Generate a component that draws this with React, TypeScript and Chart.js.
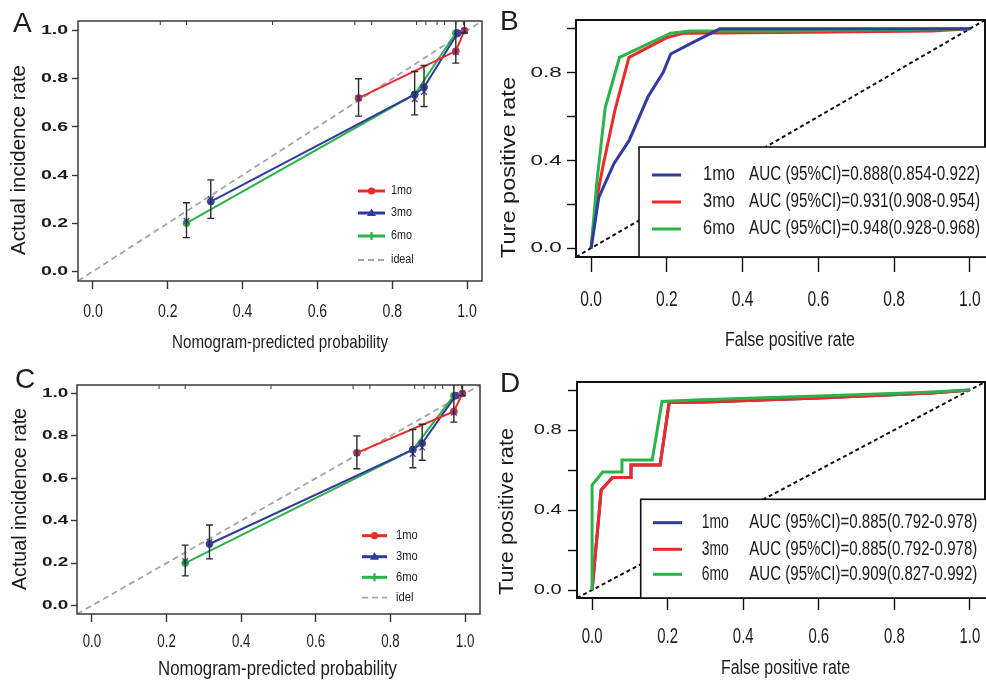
import React, { useEffect, useRef } from 'react';
import { Chart, registerables } from 'chart.js';

Chart.register(...registerables);

// ---------------- colours & fonts ----------------
const RED = '#ec2a2a';
const BLUE = '#2f3b9e';
const GREEN = '#2cb24a';
const XMARK = '#4a46a6';
const INK = '#1b1b1b';
const SANS = '"Liberation Sans", Arial, Helvetica, sans-serif';

// ---------------- tick labels ----------------
const probTickLabels = ['0.0', '0.2', '0.4', '0.6', '0.8', '1.0'];
const rocYTickLabels = ['0.0', '', '0.4', '', '0.8', ''];
const axisMin = -0.04;
const axisMax = 1.04;

// ---------------- calibration curves (A and C) ----------------
const cal1moX = [0.71, 0.97, 0.993];
const cal1moY = [0.72, 0.915, 1.0];
const cal3moX = [0.315, 0.86, 0.885, 0.975];
const cal3moY = [0.29, 0.735, 0.765, 0.99];
const cal6moX = [0.25, 0.86, 0.97];
const cal6moY = [0.2, 0.735, 0.99];
const calCrossX = [0.25, 0.315, 0.71, 0.86, 0.885, 0.97, 0.975, 0.993];
const calCrossY = [0.21, 0.3, 0.72, 0.715, 0.745, 0.91, 0.99, 1.0];
const calErrX = [0.25, 0.315, 0.71, 0.86, 0.885, 0.97, 0.993];
const calErrLow = [0.14, 0.22, 0.645, 0.65, 0.685, 0.865, 0.99];
const calErrHigh = [0.285, 0.38, 0.8, 0.83, 0.855, 1.06, 1.06];
const calRugX = [0.18, 0.25, 0.48, 0.7, 0.745, 0.865, 0.89, 0.92, 0.94, 0.97, 0.99];
const idealX = [-0.04, 1.04];
const calLegendA = ['1mo', '3mo', '6mo', 'ideal'];
const calLegendC = ['1mo', '3mo', '6mo', 'idel'];

// ---------------- ROC curves (B) ----------------
const rocNames = ['1mo', '3mo', '6mo'];
const rocB1Fpr = [0, 0.02, 0.06, 0.1, 0.15, 0.19, 0.21, 0.26, 0.34, 1.0];
const rocB1Tpr = [0, 0.23, 0.385, 0.49, 0.69, 0.8, 0.885, 0.93, 1.0, 1.0];
const rocB3Fpr = [0, 0.012, 0.032, 0.063, 0.1, 0.2, 0.245, 0.5, 0.9, 1.0];
const rocB3Tpr = [0, 0.2, 0.38, 0.63, 0.87, 0.96, 0.98, 0.983, 0.99, 1.0];
const rocB6Fpr = [0, 0.015, 0.037, 0.075, 0.21, 0.26, 0.5, 1.0];
const rocB6Tpr = [0, 0.3, 0.64, 0.87, 0.98, 0.99, 0.99, 1.0];
const aucB = [
  'AUC (95%CI)=0.888(0.854-0.922)',
  'AUC (95%CI)=0.931(0.908-0.954)',
  'AUC (95%CI)=0.948(0.928-0.968)',
];

// ---------------- ROC curves (D) ----------------
const rocD1Fpr = [0, 0.024, 0.054, 0.103, 0.103, 0.18, 0.204, 0.3, 0.6, 0.9, 1.0];
const rocD1Tpr = [0, 0.5, 0.563, 0.563, 0.625, 0.625, 0.937, 0.94, 0.96, 0.985, 1.0];
const rocD3Fpr = [0, 0.024, 0.054, 0.103, 0.103, 0.18, 0.204, 0.3, 0.6, 0.9, 1.0];
const rocD3Tpr = [0, 0.5, 0.563, 0.563, 0.625, 0.625, 0.937, 0.94, 0.96, 0.985, 1.0];
const rocD6Fpr = [0, 0, 0.028, 0.079, 0.079, 0.159, 0.185, 0.27, 0.6, 0.87, 1.0];
const rocD6Tpr = [0, 0.525, 0.59, 0.59, 0.65, 0.65, 0.943, 0.95, 0.97, 0.988, 1.0];
const aucD = [
  'AUC (95%CI)=0.885(0.792-0.978)',
  'AUC (95%CI)=0.885(0.792-0.978)',
  'AUC (95%CI)=0.909(0.827-0.992)',
];

const pts = (xs: number[], ys: number[]) => xs.map((x, i) => ({ x, y: ys[i] }));

// ---------------- drawing helpers ----------------
type TextItem = {
  text: string; x: number; y: number; font: string; color?: string;
  align?: CanvasTextAlign; baseline?: CanvasTextBaseline; rotate?: number;
  width?: number; sx?: number;
};

function drawText(ctx: CanvasRenderingContext2D, t: TextItem) {
  if (!t.text) return;
  ctx.save();
  ctx.translate(t.x, t.y);
  if (t.rotate) ctx.rotate(t.rotate);
  ctx.font = t.font;
  ctx.fillStyle = t.color || INK;
  ctx.textAlign = t.align || 'center';
  ctx.textBaseline = t.baseline || 'middle';
  let sx = t.sx || 1;
  if (t.width) {
    const w = ctx.measureText(t.text).width;
    if (w > 0) sx = t.width / w;
  }
  ctx.scale(sx, 1);
  ctx.fillText(t.text, 0, 0);
  ctx.restore();
}

function drawMarker(ctx: CanvasRenderingContext2D, style: string, x: number, y: number, color: string) {
  ctx.save();
  ctx.fillStyle = color;
  ctx.strokeStyle = color;
  ctx.setLineDash([]);
  if (style === 'circle') {
    ctx.beginPath();
    ctx.arc(x, y, 3.6, 0, Math.PI * 2);
    ctx.fill();
  } else if (style === 'triangle') {
    ctx.beginPath();
    ctx.moveTo(x, y - 4.5);
    ctx.lineTo(x + 4.5, y + 3);
    ctx.lineTo(x - 4.5, y + 3);
    ctx.closePath();
    ctx.fill();
  } else if (style === 'plus') {
    ctx.lineWidth = 2.2;
    ctx.beginPath();
    ctx.moveTo(x - 4, y); ctx.lineTo(x + 4, y);
    ctx.moveTo(x, y - 4); ctx.lineTo(x, y + 4);
    ctx.stroke();
  }
  ctx.restore();
}

function makeDeco(cfg: any) {
  return {
    id: 'deco',
    afterDatasetsDraw(chart: any) {
      const ctx: CanvasRenderingContext2D = chart.ctx;
      const a = chart.chartArea;
      const xs = chart.scales.x;
      const ys = chart.scales.y;

      if (cfg.errors) {
        const e = cfg.errors;
        ctx.save();
        ctx.beginPath();
        ctx.rect(a.left, a.top, a.right - a.left, a.bottom - a.top);
        ctx.clip();
        ctx.strokeStyle = '#2a2a2a';
        ctx.lineWidth = 1.4;
        e.x.forEach((xv: number, i: number) => {
          const px = xs.getPixelForValue(xv);
          const p1 = ys.getPixelForValue(e.low[i]);
          const p2 = ys.getPixelForValue(e.high[i]);
          ctx.beginPath();
          ctx.moveTo(px, p1); ctx.lineTo(px, p2);
          ctx.moveTo(px - 3.5, p1); ctx.lineTo(px + 3.5, p1);
          ctx.moveTo(px - 3.5, p2); ctx.lineTo(px + 3.5, p2);
          ctx.stroke();
        });
        ctx.restore();
      }

      if (cfg.rug) {
        ctx.save();
        ctx.strokeStyle = '#333';
        ctx.lineWidth = 1;
        cfg.rug.forEach((v: number) => {
          const px = xs.getPixelForValue(v);
          ctx.beginPath();
          ctx.moveTo(px, a.top);
          ctx.lineTo(px, a.top + 4);
          ctx.stroke();
        });
        ctx.restore();
      }

      // tick labels, placed from the library's own tick positions
      if (cfg.tickText) {
        const T = cfg.tickText;
        xs.ticks.forEach((_t: any, i: number) => {
          drawText(ctx, {
            text: T.x.labels[i], x: xs.getPixelForTick(i), y: a.bottom + T.x.offset,
            font: T.x.font, sx: T.x.sx, align: 'center',
          });
        });
        ys.ticks.forEach((_t: any, i: number) => {
          drawText(ctx, {
            text: T.y.labels[i], x: a.left - T.y.offset, y: ys.getPixelForTick(i),
            font: T.y.font, sx: T.y.sx, align: 'right',
          });
        });
      }

      // calibration-style legend (no box)
      if (cfg.calLegend) {
        const L = cfg.calLegend;
        L.items.forEach((dsIndex: number, i: number) => {
          const ds = chart.data.datasets[dsIndex];
          const y = L.rows[i];
          ctx.save();
          ctx.strokeStyle = ds.borderColor;
          ctx.lineWidth = L.markers[i] ? 3 : 1.8;
          ctx.setLineDash(ds.borderDash || []);
          ctx.beginPath();
          ctx.moveTo(L.x0, y);
          ctx.lineTo(L.x1, y);
          ctx.stroke();
          ctx.restore();
          if (L.markers[i]) drawMarker(ctx, L.markers[i], (L.x0 + L.x1) / 2, y, ds.borderColor);
          drawText(ctx, { text: ds.label, x: L.tx, y, font: L.font, align: 'left', sx: 0.86 });
        });
      }

      // frame
      ctx.save();
      ctx.strokeStyle = cfg.frameColor;
      ctx.lineWidth = cfg.frameWidth;
      ctx.strokeRect(a.left, a.top, a.right - a.left, a.bottom - a.top);
      ctx.restore();

      // ROC legend (boxed)
      if (cfg.rocLegend) {
        const L = cfg.rocLegend;
        ctx.save();
        ctx.fillStyle = '#ffffff';
        ctx.fillRect(L.left, L.top, 1000, a.bottom - L.top);
        ctx.strokeStyle = '#111';
        ctx.lineWidth = 1.6;
        ctx.strokeRect(L.left, L.top, 1000, a.bottom - L.top);
        ctx.restore();
        L.items.forEach((dsIndex: number, i: number) => {
          const ds = chart.data.datasets[dsIndex];
          const y = L.rows[i];
          ctx.save();
          ctx.strokeStyle = ds.borderColor;
          ctx.lineWidth = 3;
          ctx.beginPath();
          ctx.moveTo(L.lx0, y);
          ctx.lineTo(L.lx1, y);
          ctx.stroke();
          ctx.restore();
          drawText(ctx, { text: ds.label, x: L.nameX, y, font: L.font, align: 'left', width: L.nameW });
          drawText(ctx, { text: L.auc[i], x: L.aucX, y, font: L.font, align: 'left', width: L.aucW });
        });
      }

      (cfg.texts || []).forEach((t: TextItem) => drawText(ctx, t));
    },
  };
}

function axisFit(kind: 'x' | 'y', size: number) {
  return (s: any) => {
    if (kind === 'x') s.height = size; else s.width = size;
    s.paddingLeft = 0; s.paddingRight = 0; s.paddingTop = 0; s.paddingBottom = 0;
  };
}

function makeScales(L: any, labelsX: string[], labelsY: string[], tickColor: string) {
  const common = {
    type: 'linear',
    min: axisMin,
    max: axisMax,
    offset: false,
    border: { display: false },
  };
  return {
    x: {
      ...common,
      position: 'bottom',
      ticks: {
        display: false, stepSize: 0.2, includeBounds: false, autoSkip: false, maxRotation: 0, minRotation: 0,
        callback: (_v: any, i: number) => labelsX[i],
      },
      grid: { drawOnChartArea: false, drawTicks: true, tickLength: L.xTl, tickColor, tickWidth: 1.4 },
      afterFit: axisFit('x', L.xH),
    },
    y: {
      ...common,
      position: 'left',
      ticks: {
        display: false, stepSize: 0.2, includeBounds: false, autoSkip: false,
        callback: (_v: any, i: number) => labelsY[i],
      },
      grid: { drawOnChartArea: false, drawTicks: true, tickLength: L.yTl, tickColor, tickWidth: 1.4 },
      afterFit: axisFit('y', L.yW),
    },
  };
}

function calibrationConfig(L: any, legendLabels: string[]) {
  const line = (label: string, xs: number[], ys: number[], color: string) => ({
    label,
    data: pts(xs, ys),
    showLine: true,
    borderColor: color,
    backgroundColor: color,
    borderWidth: 2,
    pointRadius: 3.4,
    pointBackgroundColor: color,
    pointBorderColor: color,
    pointBorderWidth: 1,
  });
  const datasets = [
    {
      label: 'x', data: pts(calCrossX, calCrossY), showLine: false, pointStyle: 'crossRot',
      pointRadius: 4, pointBorderColor: XMARK, pointBorderWidth: 1.4, borderColor: XMARK, backgroundColor: XMARK,
    },
    line(legendLabels[0], cal1moX, cal1moY, RED),
    line(legendLabels[1], cal3moX, cal3moY, BLUE),
    line(legendLabels[2], cal6moX, cal6moY, GREEN),
    {
      label: legendLabels[3], data: idealX.map((v) => ({ x: v, y: v })), showLine: true,
      borderColor: '#a4a4a4', borderDash: [6, 4], borderWidth: 1.8, pointRadius: 0,
    },
  ];
  return {
    type: 'scatter',
    data: { datasets },
    options: {
      responsive: false,
      animation: false,
      devicePixelRatio: 1,
      layout: { padding: { left: 0, top: L.padTop, right: L.padRight, bottom: 0 } },
      plugins: { legend: { display: false }, tooltip: { enabled: false } },
      scales: makeScales(L, probTickLabels, probTickLabels, '#333'),
    },
    plugins: [
      makeDeco({
        frameColor: '#3a3a3a',
        frameWidth: 1.5,
        errors: { x: calErrX, low: calErrLow, high: calErrHigh },
        rug: calRugX,
        tickText: {
          x: { labels: probTickLabels, ...L.xLab },
          y: { labels: probTickLabels, ...L.yLab },
        },
        calLegend: { ...L.legend, items: [1, 2, 3, 4], markers: ['circle', 'triangle', 'plus', null] },
        texts: L.texts,
      }),
    ],
  };
}

function rocConfig(L: any, series: { f: number[]; t: number[]; c: string }[], auc: string[]) {
  const datasets: any[] = [];
  // drawing order: first dataset is drawn on top
  const order = L.blueOnTop ? [0, 2, 1] : [2, 1, 0];
  order.forEach((k) => {
    datasets.push({
      label: rocNames[k],
      data: pts(series[k].f, series[k].t),
      showLine: true,
      borderColor: series[k].c,
      backgroundColor: series[k].c,
      borderWidth: 3,
      pointRadius: 0,
      tension: 0,
    });
  });
  datasets.push({
    label: 'ref',
    data: idealX.map((v) => ({ x: v, y: v })),
    showLine: true,
    borderColor: '#111',
    borderDash: [4, 3],
    borderWidth: 2,
    pointRadius: 0,
  });
  const idxOf = (name: string) => datasets.findIndex((d) => d.label === name);
  return {
    type: 'scatter',
    data: { datasets },
    options: {
      responsive: false,
      animation: false,
      devicePixelRatio: 1,
      layout: { padding: { left: 0, top: L.padTop, right: L.padRight, bottom: 0 } },
      plugins: { legend: { display: false }, tooltip: { enabled: false } },
      scales: makeScales(L, probTickLabels, rocYTickLabels, '#111'),
    },
    plugins: [
      makeDeco({
        frameColor: '#111',
        frameWidth: 2,
        tickText: {
          x: { labels: probTickLabels, ...L.xLab },
          y: { labels: rocYTickLabels, ...L.yLab },
        },
        rocLegend: { ...L.legend, items: rocNames.map(idxOf), auc },
        texts: L.texts,
      }),
    ],
  };
}

// ---------------- panel layouts ----------------
const layoutA = {
  padTop: 21, padRight: 8, yW: 78, xH: 79, xTl: 8, yTl: 6,
  xLab: { offset: 30.5, font: `19px ${SANS}`, sx: 0.74 },
  yLab: { offset: 10, font: `bold 13px ${SANS}`, sx: 1.5 },
  legend: { x0: 358, x1: 385, tx: 391, rows: [191, 213, 236, 260], font: `12.5px ${SANS}` },
  texts: [
    { text: 'A', x: 13, y: 32, font: `28px ${SANS}`, align: 'left', baseline: 'alphabetic' },
    { text: 'Nomogram-predicted probability', x: 280, y: 343, font: `18.5px ${SANS}`, width: 216 },
    { text: 'Actual incidence rate', x: 19, y: 160, rotate: -Math.PI / 2, font: `20px ${SANS}`, width: 190 },
  ],
};
const layoutC = {
  padTop: 30, padRight: 10, yW: 77, xH: 71, xTl: 8, yTl: 6,
  xLab: { offset: 28, font: `19px ${SANS}`, sx: 0.7 },
  yLab: { offset: 8.7, font: `bold 12px ${SANS}`, sx: 1.58 },
  legend: { x0: 362, x1: 387, tx: 396, rows: [180.7, 201.7, 222.3, 242.7], font: `13px ${SANS}` },
  texts: [
    { text: 'C', x: 15, y: 33, font: `28px ${SANS}`, align: 'left', baseline: 'alphabetic' },
    { text: 'Nomogram-predicted probability', x: 277.5, y: 314, font: `20.5px ${SANS}`, width: 239 },
    { text: 'Actual incidence rate', x: 20, y: 144, rotate: -Math.PI / 2, font: `20px ${SANS}`, width: 182 },
  ],
};
const layoutB = {
  padTop: 20, padRight: 1, yW: 86, xH: 103, xTl: 15, yTl: 9, blueOnTop: true,
  xLab: { offset: 43, font: `22px ${SANS}`, sx: 0.71 },
  yLab: { offset: 14.3, font: `15px ${SANS}`, sx: 1.5 },
  legend: {
    left: 149, top: 147, lx0: 162, lx1: 191, rows: [175, 202, 229],
    nameX: 213, nameW: 32, aucX: 259, aucW: 231, font: `19.5px ${SANS}`,
  },
  texts: [
    { text: 'B', x: 10, y: 30, font: `28px ${SANS}`, align: 'left', baseline: 'alphabetic' },
    { text: 'False positive rate', x: 300, y: 340, font: `20px ${SANS}`, width: 130 },
    { text: 'Ture positive rate', x: 19, y: 167.5, rotate: -Math.PI / 2, font: `20px ${SANS}`, width: 181 },
  ],
};
const layoutD = {
  padTop: 27, padRight: 1, yW: 87, xH: 87, xTl: 12, yTl: 9, blueOnTop: false,
  xLab: { offset: 39, font: `22px ${SANS}`, sx: 0.68 },
  yLab: { offset: 15.3, font: `15px ${SANS}`, sx: 1.34 },
  legend: {
    left: 150.7, top: 144.3, lx0: 163, lx1: 192, rows: [167.7, 194.3, 219.3],
    nameX: 211.7, nameW: 27, aucX: 259.3, aucW: 228, font: `19.5px ${SANS}`,
  },
  texts: [
    { text: 'D', x: 10, y: 37, font: `28px ${SANS}`, align: 'left', baseline: 'alphabetic' },
    { text: 'False positive rate', x: 295.5, y: 313, font: `20px ${SANS}`, width: 129 },
    { text: 'Ture positive rate', x: 17.5, y: 156.5, rotate: -Math.PI / 2, font: `20px ${SANS}`, width: 167 },
  ],
};

const makeA = () => calibrationConfig(layoutA, calLegendA);
const makeC = () => calibrationConfig(layoutC, calLegendC);
const makeB = () => rocConfig(layoutB, [
  { f: rocB1Fpr, t: rocB1Tpr, c: BLUE },
  { f: rocB3Fpr, t: rocB3Tpr, c: RED },
  { f: rocB6Fpr, t: rocB6Tpr, c: GREEN },
], aucB);
const makeD = () => rocConfig(layoutD, [
  { f: rocD1Fpr, t: rocD1Tpr, c: BLUE },
  { f: rocD3Fpr, t: rocD3Tpr, c: RED },
  { f: rocD6Fpr, t: rocD6Tpr, c: GREEN },
], aucD);

function Panel(props: { left: number; top: number; width: number; height: number; make: () => any }) {
  const ref = useRef<HTMLCanvasElement>(null);
  useEffect(() => {
    const chart = new Chart(ref.current as HTMLCanvasElement, props.make());
    return () => chart.destroy();
  }, []);
  return (
    <canvas
      ref={ref}
      width={props.width}
      height={props.height}
      style={{ position: 'absolute', left: props.left, top: props.top, width: props.width, height: props.height }}
    />
  );
}

export default function App() {
  return (
    <div style={{ position: 'absolute', left: 0, top: 0, width: 986, height: 685, background: '#ffffff', overflow: 'hidden' }}>
      <Panel left={0} top={0} width={490} height={360} make={makeA} />
      <Panel left={0} top={355} width={490} height={330} make={makeC} />
      <Panel left={490} top={0} width={496} height={360} make={makeB} />
      <Panel left={490} top={355} width={496} height={330} make={makeD} />
    </div>
  );
}
